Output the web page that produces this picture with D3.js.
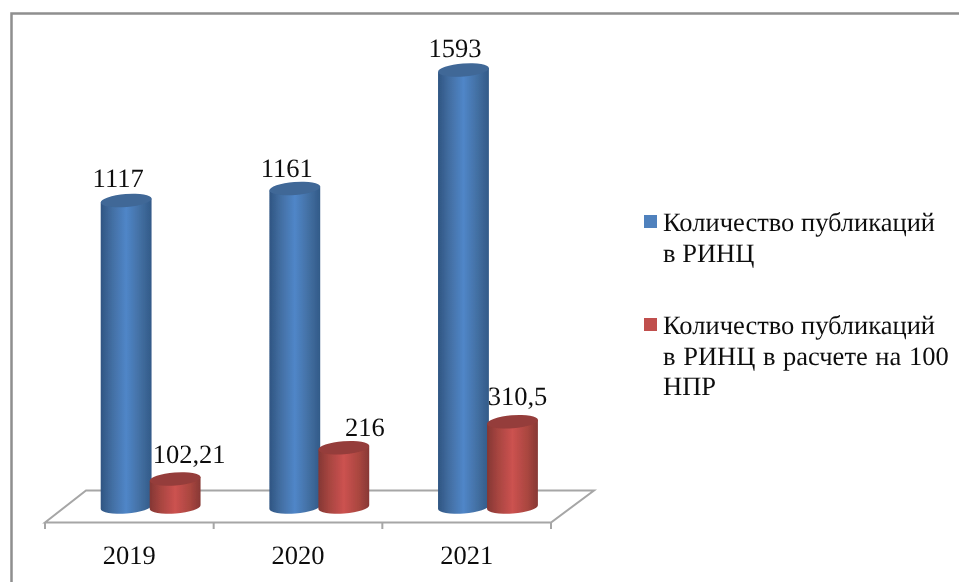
<!DOCTYPE html>
<html><head><meta charset="utf-8">
<script src="https://cdn.jsdelivr.net/npm/d3@7/dist/d3.min.js"></script>
<style>html,body{margin:0;padding:0;background:#fff}svg{display:block}text{font-family:"Liberation Serif","Times New Roman",serif;fill:#111;text-rendering:geometricPrecision}</style>
</head><body><svg id="c" width="959" height="582"></svg>
<script>
const categories = ["2019","2020","2021"];
const seriesNames = [["Количество публикаций","в РИНЦ"],["Количество публикаций","в РИНЦ в расчете на 100","НПР"]];
const publications = [1117,1161,1593];
const per100 = [102.21,216,310.5];
const labelsA = ["1117","1161","1593"];
const labelsB = ["102,21","216","310,5"];
const colors = ["#4f81bd","#c0504d"];

const FS = 26.5;
const svg = d3.select("#c");
const defs = svg.append("defs");
function grad(id, stops){
  const g = defs.append("linearGradient").attr("id",id).attr("x1","0").attr("x2","1").attr("y1","0").attr("y2","0");
  stops.forEach(s=>g.append("stop").attr("offset",s[0]).attr("stop-color",s[1]));
}
grad("gb",[[0,"#2f5582"],[0.2,"#416c9f"],[0.5,"#5086c8"],[0.8,"#416d9f"],[1,"#325a88"]]);
grad("gr",[[0,"#843734"],[0.2,"#a5443f"],[0.5,"#cc5250"],[0.8,"#a9463f"],[1,"#873835"]]);
defs.append("filter").attr("id","soft").append("feGaussianBlur").attr("stdDeviation",0.4);

const root = svg.append("g").attr("filter","url(#soft)");

// outer frame, open on the right and bottom
root.append("path").attr("d","M11.5,582V13.5H959").attr("fill","none").attr("stroke","#8f8f8f").attr("stroke-width",2.5);

const y = d3.scaleLinear().domain([0,1593]).range([507,70]);
const x0 = d3.scaleBand().domain(categories).range([45,551]);

// floor of the 3D plot
root.append("path").attr("d","M45,522.5 L86,490.5 H594 L551,522.5 Z").attr("fill","none").attr("stroke","#a6a6a6").attr("stroke-width",2);
const axis = d3.axisBottom(x0).tickSize(0).tickPadding(23);
const ag = root.append("g").attr("transform","translate(0,522.5)").call(axis);
ag.select(".domain").remove();
ag.selectAll("text").attr("font-size",FS).style("font-family",'"Liberation Serif","Times New Roman",serif').attr("fill","#111");
x0.domain().concat("end").forEach((c,i)=>{
  const t = 45 + i*x0.step();
  root.append("line").attr("x1",t).attr("x2",t).attr("y1",522).attr("y2",529).attr("stroke","#a6a6a6").attr("stroke-width",2);
});

const rx=25.5, ry=6.5, tilt=-4.5;
function cyl(cx, topY, botY, fill, topFill){
  const g=root.append("g");
  const dx=rx*Math.cos(tilt*Math.PI/180), dy=rx*Math.sin(tilt*Math.PI/180);
  g.append("path").attr("d",`M${cx-dx},${topY-dy} L${cx-dx},${botY-dy} A${rx},${ry} ${tilt} 0 0 ${cx+dx},${botY+dy} L${cx+dx},${topY+dy} Z`).attr("fill",`url(#${fill})`);
  g.append("ellipse").attr("cx",cx).attr("cy",topY).attr("rx",rx).attr("ry",ry).attr("transform",`rotate(${tilt} ${cx} ${topY})`).attr("fill",topFill);
}
const bCx = categories.map(c=>x0(c)+x0.bandwidth()/2-3.2);
categories.forEach((c,i)=>{
  cyl(bCx[i], y(publications[i]), y(0), "gb", "#3f6797");
  cyl(bCx[i]+49, y(per100[i]), y(0), "gr", "#953d3a");
});
const dxA=[-8,-8,-8.5], dyA=[-13.5,-11.5,-13], dxB=[63,70,54], dyB=[-16,-12,-16.5];
categories.forEach((c,i)=>{
  root.append("text").attr("x",bCx[i]+dxA[i]).attr("y",y(publications[i])+dyA[i]).attr("text-anchor","middle").attr("font-size",FS).text(labelsA[i]);
  root.append("text").attr("x",bCx[i]+dxB[i]).attr("y",y(per100[i])+dyB[i]).attr("text-anchor","middle").attr("font-size",FS).text(labelsB[i]);
});

// legend
const lx=663, tops=[231,334];
const wordGap=[[0,0],[0,1]];
seriesNames.forEach((lines,k)=>{
  root.append("rect").attr("x",644).attr("y",tops[k]-16).attr("width",13).attr("height",13).attr("fill",colors[k]);
  lines.forEach((t,j)=>root.append("text").attr("x",lx).attr("y",tops[k]+j*30.5).attr("font-size",FS).attr("word-spacing",(wordGap[k][j]||0)+"px").text(t));
});
</script></body></html>
